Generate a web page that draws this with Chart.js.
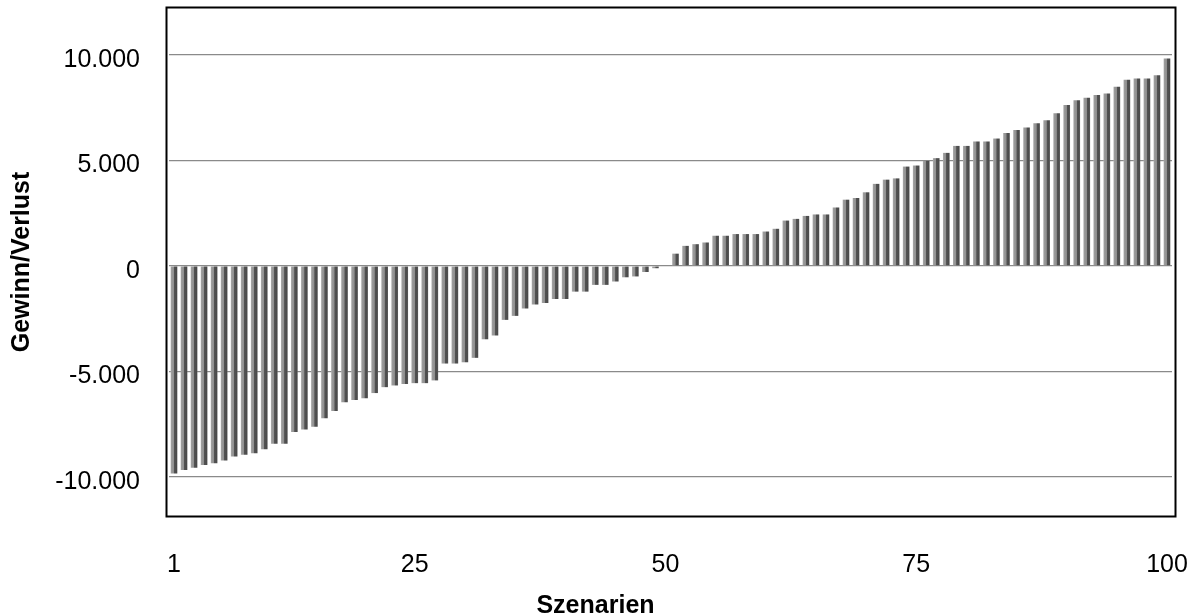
<!DOCTYPE html>
<html><head><meta charset="utf-8">
<script src="https://cdn.jsdelivr.net/npm/chart.js@4.4.1/dist/chart.umd.min.js"></script>
<style>html,body{margin:0;padding:0;background:#fff}#wrap{width:1191px;height:616px}</style>
</head><body><div id="wrap"><canvas id="c" width="1191" height="616"></canvas></div>
<script>
const categories = Array.from({length: 100}, (_, i) => String(i + 1));
const xTickShown = ['1', '25', '50', '75', '100'];
const profitLoss = [
  -9840, -9680, -9570, -9440, -9360, -9230, -9040, -8960, -8880, -8690,
  -8430, -8430, -7880, -7760, -7630, -7230, -6880, -6470, -6360, -6280,
  -6030, -5750, -5670, -5600, -5560, -5560, -5430, -4630, -4630, -4570,
  -4360, -3480, -3300, -2560, -2370, -2020, -1830, -1760, -1570, -1570,
  -1220, -1220, -900, -900, -740, -540, -500, -290, -110, 0,
  580, 950, 1030, 1110, 1430, 1430, 1510, 1510, 1510, 1630,
  1760, 2150, 2230, 2370, 2440, 2440, 2770, 3140, 3220, 3490,
  3890, 4090, 4150, 4710, 4760, 4980, 5110, 5360, 5690, 5690,
  5900, 5900, 6040, 6300, 6440, 6560, 6760, 6910, 7240, 7630,
  7850, 7970, 8100, 8170, 8500, 8830, 8890, 8890, 9040, 9830
];
const yTickValues = [-10000, -5000, 0, 5000, 10000];
const yTickLabels = ['-10.000', '-5.000', '0', '5.000', '10.000'];
const yMin = -11860, yMax = 12230;
const FONT = 'Liberation Sans, Arial, Helvetica, sans-serif';

function barGradient(ctx) {
  const chart = ctx.chart;
  if (!chart.chartArea || ctx.type !== 'data') return '#777';
  const xs = chart.scales.x;
  const cx = xs.getPixelForValue(ctx.dataIndex);
  const step = xs.getPixelForValue(1) - xs.getPixelForValue(0);
  const w = step * 0.67;
  const g = chart.ctx.createLinearGradient(cx - w / 2, 0, cx + w / 2, 0);
  g.addColorStop(0, '#b4b4b4');
  g.addColorStop(0.12, '#9c9c9c');
  g.addColorStop(0.47, '#8f8f8f');
  g.addColorStop(0.53, '#525252');
  g.addColorStop(0.88, '#4a4a4a');
  g.addColorStop(1, '#6e6e6e');
  return g;
}

function noPadding(s) {
  s.paddingTop = 0; s.paddingBottom = 0; s.paddingLeft = 0; s.paddingRight = 0;
}

const framePlugin = {
  id: 'frame',
  afterDraw(chart) {
    const {ctx, chartArea: a} = chart;
    ctx.save();
    ctx.strokeStyle = '#000';
    ctx.lineWidth = 2;
    ctx.strokeRect(a.left - 2.5, a.top - 0.5, (a.right + 3.5) - (a.left - 2.5), (a.bottom + 0.5) - (a.top - 0.5));
    ctx.restore();
  }
};

new Chart(document.getElementById('c'), {
  type: 'bar',
  data: {
    labels: categories,
    datasets: [{
      data: profitLoss,
      backgroundColor: barGradient,
      borderWidth: 0,
      barPercentage: 0.67,
      categoryPercentage: 1.0
    }]
  },
  options: {
    responsive: false,
    animation: false,
    devicePixelRatio: 1,
    layout: {padding: {top: 8, left: 0, right: 0, bottom: 0}},
    plugins: {
      legend: {display: false},
      tooltip: {enabled: false},
      title: {
        display: true, position: 'bottom', text: 'Szenarien', color: '#000',
        font: {family: FONT, size: 25, weight: 'bold', lineHeight: 0.8},
        padding: {top: 0, bottom: 0}
      }
    },
    scales: {
      x: {
        type: 'category',
        offset: true,
        grid: {display: false, drawTicks: false},
        border: {display: false},
        ticks: {
          autoSkip: false, maxRotation: 0, minRotation: 0, padding: 34,
          color: '#000', font: {family: FONT, size: 25},
          callback: (v, i) => xTickShown.includes(categories[i]) ? categories[i] : ''
        },
        afterFit: s => { s.height = 80; noPadding(s); }
      },
      y: {
        min: yMin, max: yMax,
        position: 'left',
        z: 1,
        grid: {color: '#8a8a8a', lineWidth: 1.3, drawTicks: false},
        border: {display: false},
        afterBuildTicks: s => { s.ticks = yTickValues.map(v => ({value: v})); },
        ticks: {
          padding: 29, labelOffset: 5, color: '#000',
          font: {family: FONT, size: 25},
          callback: v => yTickLabels[yTickValues.indexOf(v)]
        },
        title: {
          display: true, text: 'Gewinn/Verlust', color: '#000',
          font: {family: FONT, size: 25, weight: 'bold'},
          padding: {top: 7, bottom: 0}
        },
        afterFit: s => { s.width = 169; noPadding(s); }
      },
      yr: {
        position: 'right',
        display: true,
        grid: {display: false, drawTicks: false},
        border: {display: false},
        ticks: {display: false},
        afterFit: s => { s.width = 19; noPadding(s); }
      }
    }
  },
  plugins: [framePlugin]
});
</script>
</body></html>
